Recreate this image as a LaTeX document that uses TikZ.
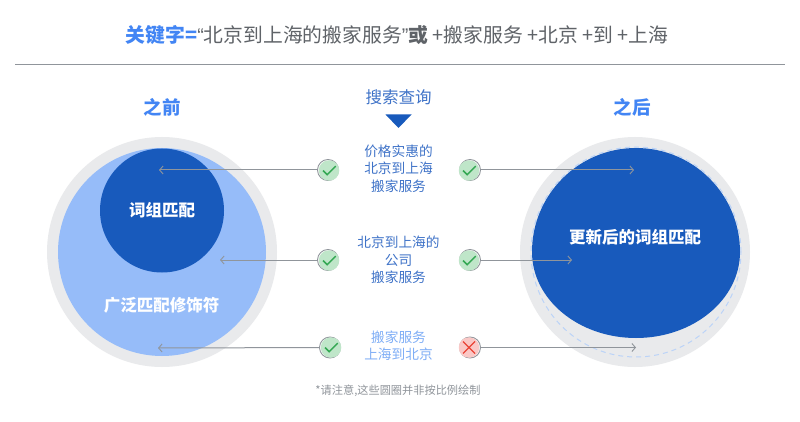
\documentclass[tikz,border=0pt]{standalone}
\usepackage{fontspec}
\setmainfont{Noto Sans CJK SC}
\newfontfamily\latinq{Liberation Sans}
\usetikzlibrary{arrows.meta,shapes.geometric}
\definecolor{ttl}{HTML}{5F6368}
\definecolor{kw}{HTML}{4285F4}
\definecolor{deep}{HTML}{185ABC}
\definecolor{midb}{HTML}{3F73C8}
\definecolor{lightb}{HTML}{7FAEF6}
\definecolor{halo}{HTML}{E9EAEC}
\definecolor{pale}{HTML}{96BCF9}
\definecolor{dashb}{HTML}{BBD3F8}
\definecolor{okbg}{HTML}{BFE6C9}
\definecolor{okfg}{HTML}{34A853}
\definecolor{nobg}{HTML}{FAC8C6}
\definecolor{nofg}{HTML}{EA4335}
\definecolor{rim}{HTML}{90959B}
\tikzset{
 x=1pt,y=-1pt,
 conn/.style={draw=rim,line width=1pt,-{Straight Barb[length=3.5pt,width=8pt,line width=.9pt]}},
 mark base/.style={circle,minimum size=20.5pt,inner sep=0pt,outer sep=0pt},
 okmark/.style={mark base,fill=okbg,path picture={\draw[okfg,line width=1.5pt] ([shift={(-6pt,0pt)}]path picture bounding box.center) -- ++(4.2pt,-4.2pt) -- ++(8.5pt,8.5pt);}},
 nomark/.style={mark base,fill=nobg,path picture={\draw[nofg,line width=1.4pt] ([shift={(-6pt,-6pt)}]path picture bounding box.center) -- ++(12pt,12pt) ([shift={(6pt,-6pt)}]path picture bounding box.center) -- ++(-12pt,12pt);}},
 ring/.style={circle,draw=rim,line width=.9pt,minimum size=21pt,inner sep=0pt},
 query/.style={align=center,font=\fontsize{13.7}{17.3}\selectfont,inner sep=0pt},
 head/.style={text=kw,font=\fontsize{18.5}{20}\selectfont\bfseries,inner sep=0pt},
 inside/.style={text=white,font=\fontsize{16.5}{18}\selectfont\bfseries,inner sep=0pt},
}
\begin{document}
\begin{tikzpicture}
\useasboundingbox (0,0) rectangle (800,422);
\fill[white] (0,0) rectangle (800,422);
% title
\node[inner sep=0pt,text=ttl,font=\fontsize{19.8}{22}\selectfont] (title) at (397,35)
 {\textcolor{kw}{\bfseries 关键字=}{\latinq “}北京到上海的搬家服务{\latinq ”}\textbf{或} +搬家服务 +北京 +到 +上海};
\coordinate (ruleL) at (15,65);
\coordinate (ruleR) at (785,65);
\draw[rim,line width=1pt] (ruleL) -- (ruleR);
% headers
\node[head] (before) at (162,107) {之前};
\node[head] (after) at (632,107) {之后};
\node[inner sep=0pt,text=midb,font=\fontsize{16.5}{18}\selectfont] (search) at (398.5,97) {搜索查询};
\fill[deep] (385.5,114.5) -- (411.5,114.5) -- (398.5,128) -- cycle;
% left circles
\fill[halo] (162,252) circle (115pt);
\fill[pale] (162,252) circle (104pt);
\node[circle,fill=deep,minimum size=124pt,inner sep=0pt,inside] (phrase) at (162,210.5) {词组匹配};
\node[inside] (broad) at (161.5,305) {广泛匹配修饰符};
% right circles
\fill[halo] (635,252) circle (115pt);
\draw[dashb,line width=1pt,dash pattern=on 5pt off 4pt] (636,252) circle (105pt);
\fill[deep] (532,252) arc[start angle=180,end angle=0,radius=104pt]
  arc[start angle=0,end angle=-180,x radius=104pt,y radius=86pt] -- cycle;
\node[inside] (updated) at (635,237) {更新后的词组匹配};
% queries
\node[query,text=midb] (q1) at (398.5,168.5) {价格实惠的\\北京到上海\\搬家服务};
\node[query,text=midb] (q2) at (398.5,260) {北京到上海的\\公司\\搬家服务};
\node[query,text=lightb] (q3) at (398.5,346) {搬家服务\\上海到北京};
\node[inner sep=0pt,text=rim,font=\fontsize{11.2}{13}\selectfont] (note) at (398,391) {*请注意,这些圆圈并非按比例绘制};
% free ends
\coordinate (l1) at (159,170); \coordinate (r1) at (634,170);
\coordinate (l2) at (220,260); \coordinate (r2) at (572,260);
\coordinate (l3) at (158,348); \coordinate (r3) at (636,347.5);
% rings and marks
\node[ring] (a1) at (328,170) {}; \node[ring] (a2) at (328,260) {}; \node[ring] (a3) at (330,347.5) {};
\node[ring] (b1) at (470,170) {}; \node[ring] (b2) at (470,260) {}; \node[ring] (b3) at (470,347.5) {};
\draw[conn] (a1) -- (l1); \draw[conn] (a2) -- (l2); \draw[conn] (a3) -- (l3);
\draw[conn] (b1) -- (r1); \draw[conn] (b2) -- (r2); \draw[conn] (b3) -- (r3);
\node[okmark] (m1) at (329,170.5) {}; \node[okmark] (m2) at (329,260.5) {}; \node[okmark] (m3) at (331,347.5) {};
\node[okmark] (n1) at (469,170.5) {}; \node[okmark] (n2) at (469,260.5) {}; \node[nomark] (n3) at (469,347.5) {};
\end{tikzpicture}
\end{document}
